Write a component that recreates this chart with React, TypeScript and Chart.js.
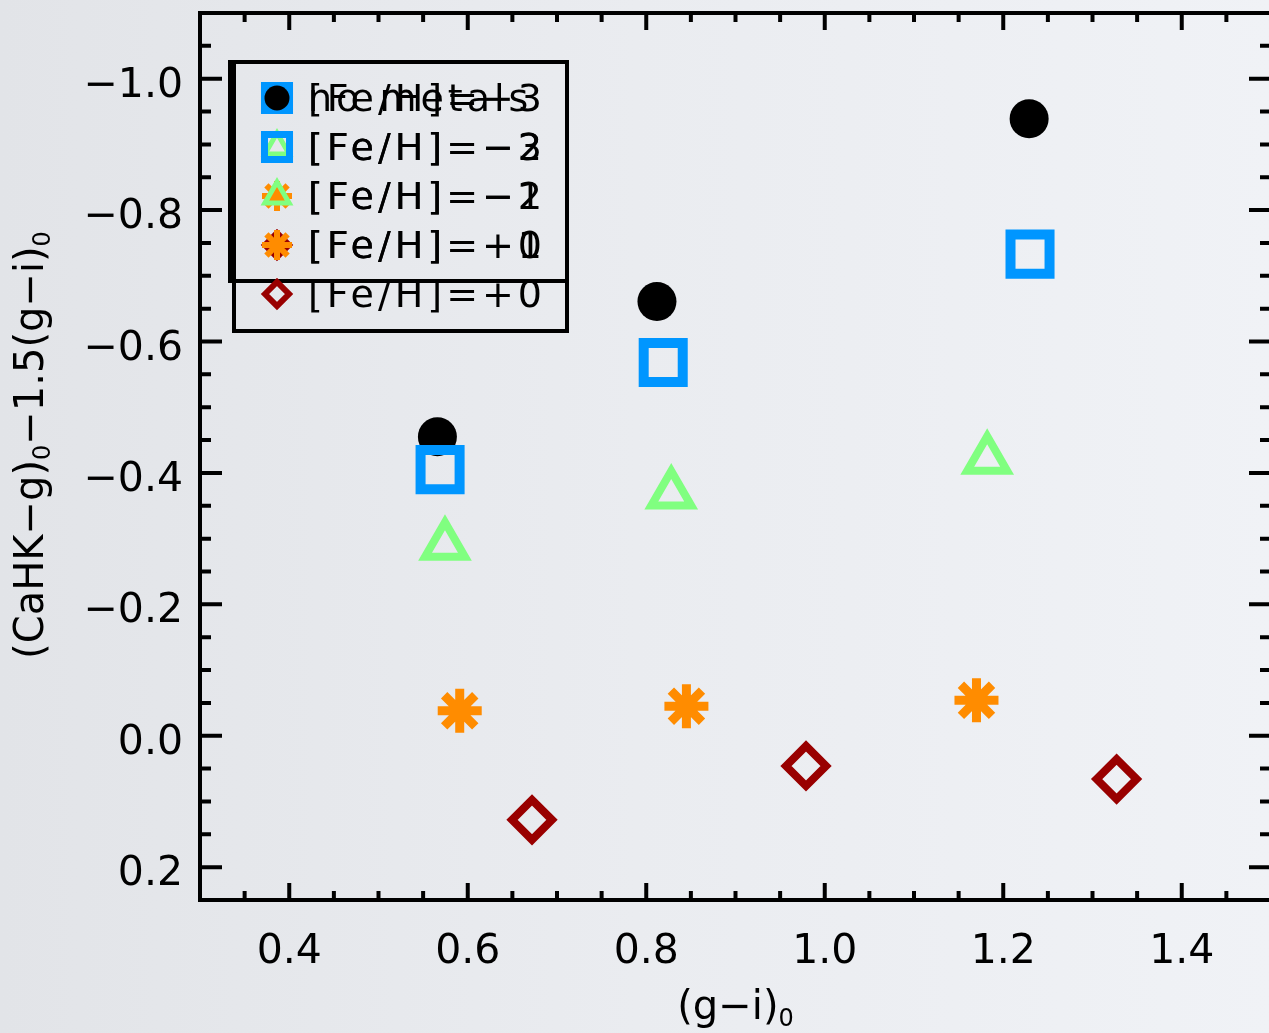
import React, { useEffect, useRef } from 'react';
import { Chart, registerables } from 'chart.js';

Chart.register(...registerables);

// ---- data -------------------------------------------------------------
const seriesLabels = ['no metals', '[Fe/H]=−3', '[Fe/H]=−2', '[Fe/H]=−1', '[Fe/H]=+0'];

const noMetalsX = [0.566, 0.812, 1.229];
const noMetalsY = [-0.455, -0.661, -0.939];
const feHm3X = [0.569, 0.819, 1.23];
const feHm3Y = [-0.405, -0.568, -0.733];
const feHm2X = [0.5745, 0.828, 1.182];
const feHm2Y = [-0.29, -0.368, -0.421];
const feHm1X = [0.591, 0.845, 1.17];
const feHm1Y = [-0.038, -0.045, -0.054];
const feHp0X = [0.672, 0.979, 1.327];
const feHp0Y = [0.128, 0.046, 0.066];

const xMajorTicks = [0.4, 0.6, 0.8, 1.0, 1.2, 1.4];
const xTickLabels = ['0.4', '0.6', '0.8', '1.0', '1.2', '1.4'];
const xMinorTicks = [0.35, 0.45, 0.5, 0.55, 0.65, 0.7, 0.75, 0.85, 0.9, 0.95, 1.05, 1.1, 1.15, 1.25, 1.3, 1.35, 1.45];
const yMajorTicks = [-1.0, -0.8, -0.6, -0.4, -0.2, 0.0, 0.2];
const yTickLabels = ['−1.0', '−0.8', '−0.6', '−0.4', '−0.2', '0.0', '0.2'];
const yMinorTicks = [-1.05, -0.95, -0.9, -0.85, -0.75, -0.7, -0.65, -0.55, -0.5, -0.45, -0.35, -0.3, -0.25, -0.15, -0.1, -0.05, 0.05, 0.1, 0.15];

const xRange = [0.3, 1.5];
const yRange = [-1.1, 0.25];

// legend rows: the older 4-entry box and the 5-entry box drawn over it
const legendASeries = [1, 2, 3, 4];
const legendBSeries = [0, 1, 2, 3, 4];

// ---- styles -----------------------------------------------------------
type Sym = 'circle' | 'rect' | 'triangle' | 'star' | 'rectRot';
const STYLES: { sym: Sym; color: string; filled: boolean; r: number; bw: number; lr: number; lbw: number }[] = [
  { sym: 'circle', color: '#000000', filled: true, r: 19.5, bw: 0, lr: 12.5, lbw: 0 },
  { sym: 'rect', color: '#0096ff', filled: false, r: 27.6, bw: 10, lr: 17.7, lbw: 7 },
  { sym: 'triangle', color: '#80ff80', filled: false, r: 23, bw: 8, lr: 14, lbw: 5 },
  { sym: 'star', color: '#ff8c00', filled: false, r: 22, bw: 9, lr: 15, lbw: 6 },
  { sym: 'rectRot', color: '#990000', filled: false, r: 20, bw: 8, lr: 12, lbw: 6 },
];

const FONT = '"DejaVu Sans", sans-serif';
const CANVAS_W = 1272;
const CANVAS_H = 1033;

function drawSymbol(ctx: CanvasRenderingContext2D, sym: Sym, x: number, y: number, r: number, lw: number, color: string, filled: boolean) {
  ctx.save();
  ctx.lineWidth = lw;
  ctx.strokeStyle = color;
  ctx.fillStyle = color;
  ctx.lineJoin = 'miter';
  ctx.lineCap = 'butt';
  ctx.beginPath();
  if (sym === 'circle') {
    ctx.arc(x, y, r, 0, Math.PI * 2);
    ctx.closePath();
  } else if (sym === 'rect') {
    const s = r * Math.SQRT1_2;
    ctx.rect(x - s, y - s, 2 * s, 2 * s);
  } else if (sym === 'triangle') {
    let a = 0;
    ctx.moveTo(x + Math.sin(a) * r, y - Math.cos(a) * r);
    a += (2 * Math.PI) / 3;
    ctx.lineTo(x + Math.sin(a) * r, y - Math.cos(a) * r);
    a += (2 * Math.PI) / 3;
    ctx.lineTo(x + Math.sin(a) * r, y - Math.cos(a) * r);
    ctx.closePath();
  } else if (sym === 'rectRot') {
    ctx.moveTo(x - r, y);
    ctx.lineTo(x, y - r);
    ctx.lineTo(x + r, y);
    ctx.lineTo(x, y + r);
    ctx.closePath();
  } else {
    for (const a of [0, Math.PI / 4]) {
      const c = Math.cos(a) * r;
      const s = Math.sin(a) * r;
      ctx.moveTo(x - c, y - s);
      ctx.lineTo(x + c, y + s);
      ctx.moveTo(x + s, y - c);
      ctx.lineTo(x - s, y + c);
    }
  }
  if (filled && sym !== 'star') ctx.fill();
  if (lw > 0) ctx.stroke();
  ctx.restore();
}

// draws a run of [text, isSubscript] pieces starting at x on the given baseline
function drawRich(ctx: CanvasRenderingContext2D, parts: [string, boolean][], x: number, baseline: number, main: number, sub: number, subDrop: number) {
  let cx = x;
  for (const [t, isSub] of parts) {
    ctx.font = `${isSub ? sub : main}px ${FONT}`;
    ctx.fillText(t, cx, isSub ? baseline + subDrop : baseline);
    cx += ctx.measureText(t).width;
  }
}
function richWidth(ctx: CanvasRenderingContext2D, parts: [string, boolean][], main: number, sub: number) {
  let w = 0;
  for (const [t, isSub] of parts) {
    ctx.font = `${isSub ? sub : main}px ${FONT}`;
    w += ctx.measureText(t).width;
  }
  return w;
}

const backgroundPlugin = {
  id: 'paper',
  beforeDraw(chart: any) {
    const ctx: CanvasRenderingContext2D = chart.ctx;
    ctx.save();
    const g = ctx.createLinearGradient(0, 0, CANVAS_W, 0);
    g.addColorStop(0, '#e2e4e8');
    g.addColorStop(0.5, '#eaecf0');
    g.addColorStop(1, '#f0f2f6');
    ctx.fillStyle = g;
    ctx.fillRect(0, 0, CANVAS_W, CANVAS_H);
    ctx.restore();
  },
};

const framePlugin = {
  id: 'frame',
  afterDraw(chart: any) {
    const ctx: CanvasRenderingContext2D = chart.ctx;
    const { left, right, top, bottom } = chart.chartArea;
    const xs = chart.scales.x;
    const ys = chart.scales.y;
    ctx.save();
    ctx.strokeStyle = '#000';
    ctx.fillStyle = '#000';
    ctx.lineCap = 'butt';

    // ticks, pointing inward on all four sides
    ctx.lineWidth = 4;
    ctx.beginPath();
    for (const v of xMajorTicks) {
      const p = xs.getPixelForValue(v);
      ctx.moveTo(p, bottom); ctx.lineTo(p, bottom - 17);
      ctx.moveTo(p, top); ctx.lineTo(p, top + 17);
    }
    for (const v of xMinorTicks) {
      const p = xs.getPixelForValue(v);
      ctx.moveTo(p, bottom); ctx.lineTo(p, bottom - 9);
      ctx.moveTo(p, top); ctx.lineTo(p, top + 9);
    }
    for (const v of yMajorTicks) {
      const p = ys.getPixelForValue(v);
      ctx.moveTo(left, p); ctx.lineTo(left + 22, p);
      ctx.moveTo(right, p); ctx.lineTo(right - 22, p);
    }
    for (const v of yMinorTicks) {
      const p = ys.getPixelForValue(v);
      ctx.moveTo(left, p); ctx.lineTo(left + 11, p);
      ctx.moveTo(right, p); ctx.lineTo(right - 11, p);
    }
    ctx.stroke();

    // axis box
    ctx.lineWidth = 4;
    ctx.lineJoin = 'miter';
    ctx.strokeRect(left, top, right - left, bottom - top);

    // tick labels
    ctx.font = `41px ${FONT}`;
    ctx.textBaseline = 'alphabetic';
    ctx.textAlign = 'center';
    xMajorTicks.forEach((v, i) => {
      ctx.fillText(xTickLabels[i], xs.getPixelForValue(v), bottom + 63);
    });
    ctx.textAlign = 'right';
    yMajorTicks.forEach((v, i) => {
      ctx.fillText(yTickLabels[i], left - 17, ys.getPixelForValue(v) + 18);
    });

    // axis titles
    ctx.textAlign = 'left';
    const xTitle: [string, boolean][] = [['(g−i)', false], ['0', true]];
    const xw = richWidth(ctx, xTitle, 40, 24);
    drawRich(ctx, xTitle, (left + right) / 2 - xw / 2, 1019, 40, 24, 7);

    const yTitle: [string, boolean][] = [['(CaHK−g)', false], ['0', true], ['−1.5(g−i)', false], ['0', true]];
    const yw = richWidth(ctx, yTitle, 40, 24);
    ctx.save();
    ctx.translate(43, 445);
    ctx.rotate(-Math.PI / 2);
    drawRich(ctx, yTitle, -yw / 2, 0, 40, 24, 7);
    ctx.restore();

    // legends: 4-entry box, then 5-entry box drawn over it
    const rowY = (i: number) => 98 + i * 49;
    const drawLegend = (series: number[], bx: number, by: number, bw: number, bh: number) => {
      ctx.lineWidth = 4;
      ctx.strokeStyle = '#000';
      ctx.strokeRect(bx, by, bw, bh);
      series.forEach((s, i) => {
        const st = STYLES[s];
        drawSymbol(ctx, st.sym, 277, rowY(i), st.lr, st.lbw, st.color, st.filled);
      });
      ctx.font = `38px ${FONT}`;
      (ctx as any).letterSpacing = '4px';
      ctx.fillStyle = '#000';
      ctx.textAlign = 'left';
      series.forEach((s, i) => {
        ctx.fillText(seriesLabels[s], 308, rowY(i) + 13);
      });
      (ctx as any).letterSpacing = '0px';
    };
    drawLegend(legendASeries, 230, 62, 337, 219);
    drawLegend(legendBSeries, 234, 62, 333, 269);

    ctx.restore();
  },
};

const seriesX = [noMetalsX, feHm3X, feHm2X, feHm1X, feHp0X];
const seriesY = [noMetalsY, feHm3Y, feHm2Y, feHm1Y, feHp0Y];

export default function App() {
  const ref = useRef<HTMLCanvasElement | null>(null);

  useEffect(() => {
    const canvas = ref.current;
    if (!canvas) return;
    const datasets = seriesLabels.map((label, i) => {
      const st = STYLES[i];
      return {
        label,
        data: seriesX[i].map((x, k) => ({ x, y: seriesY[i][k] })),
        pointStyle: st.sym,
        pointRadius: st.r,
        pointHoverRadius: st.r,
        pointBorderWidth: st.bw,
        pointHoverBorderWidth: st.bw,
        pointBackgroundColor: st.filled ? st.color : 'rgba(0,0,0,0)',
        pointBorderColor: st.color,
        showLine: false,
        // earlier series underneath later ones
        order: seriesLabels.length - i,
      };
    });
    const chart = new Chart(canvas, {
      type: 'scatter',
      data: { datasets },
      options: {
        responsive: false,
        animation: false,
        devicePixelRatio: 1,
        events: [],
        layout: {
          autoPadding: false,
          padding: { left: 200, top: 13, right: CANVAS_W - 1271, bottom: CANVAS_H - 900 },
        },
        scales: {
          x: { type: 'linear', min: xRange[0], max: xRange[1], display: false },
          y: { type: 'linear', min: yRange[0], max: yRange[1], reverse: true, display: false },
        },
        plugins: {
          legend: { display: false },
          tooltip: { enabled: false },
        },
      },
      plugins: [backgroundPlugin, framePlugin],
    } as any);
    return () => chart.destroy();
  }, []);

  return (
    <div style={{ position: 'fixed', left: 0, top: 0, width: 1269, height: 1033, overflow: 'hidden' }}>
      <canvas ref={ref} width={CANVAS_W} height={CANVAS_H} style={{ display: 'block', width: CANVAS_W, height: CANVAS_H }} />
    </div>
  );
}
